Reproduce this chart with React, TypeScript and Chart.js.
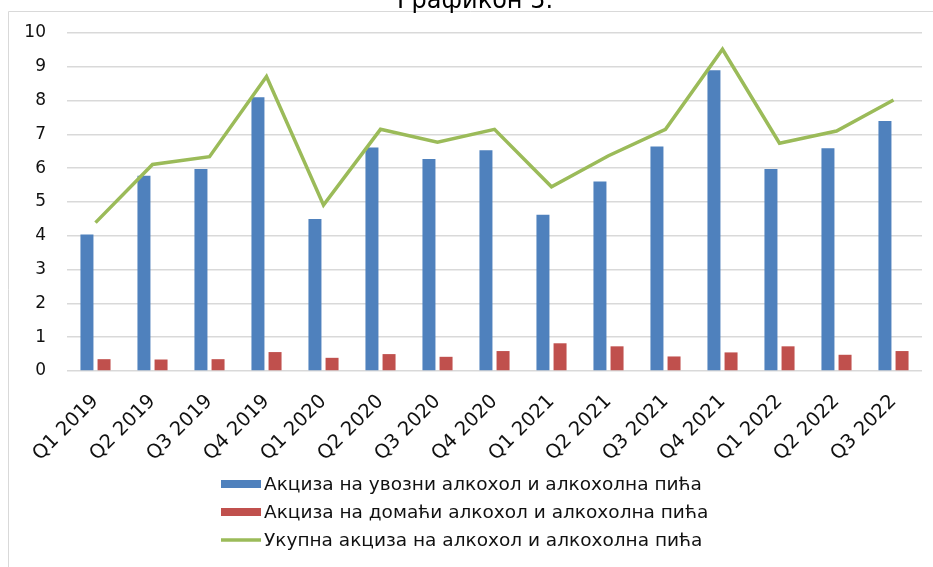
import React, { useEffect, useRef } from 'react';
import { Chart, registerables } from 'chart.js';

Chart.register(...registerables);

const categories = [
  'Q1 2019', 'Q2 2019', 'Q3 2019', 'Q4 2019',
  'Q1 2020', 'Q2 2020', 'Q3 2020', 'Q4 2020',
  'Q1 2021', 'Q2 2021', 'Q3 2021', 'Q4 2021',
  'Q1 2022', 'Q2 2022', 'Q3 2022',
];

const importedExcise = [4.04, 5.78, 5.98, 8.1, 4.5, 6.61, 6.27, 6.53, 4.62, 5.61, 6.64, 8.9, 5.98, 6.59, 7.4];
const domesticExcise = [0.35, 0.34, 0.35, 0.56, 0.39, 0.5, 0.42, 0.59, 0.82, 0.73, 0.43, 0.55, 0.73, 0.48, 0.59];
const totalExcise = [4.39, 6.11, 6.34, 8.71, 4.91, 7.15, 6.77, 7.15, 5.45, 6.37, 7.15, 9.52, 6.74, 7.1, 8.02];

const seriesLabels = [
  'Акциза на увозни алкохол и алкохолна пића',
  'Акциза на домаћи алкохол и алкохолна пића',
  'Укупна акциза на алкохол и алкохолна пића',
];

const titleText = 'Графикон 5.';
const yMin = 0;
const yMax = 10;
const yStep = 1;

const FONT = '"DejaVu Sans", Verdana, sans-serif';

const decorPlugin = {
  id: 'decorAndLegend',
  afterDraw(chart: any) {
    const ctx = chart.ctx;
    ctx.save();
    // outer frame
    ctx.strokeStyle = '#d9d9d9';
    ctx.lineWidth = 1;
    ctx.beginPath();
    ctx.moveTo(8.5, 567);
    ctx.lineTo(8.5, 11.5);
    ctx.lineTo(933, 11.5);
    ctx.stroke();
    // title (cut at top)
    ctx.fillStyle = '#000';
    ctx.font = `24px ${FONT}`;
    ctx.textAlign = 'center';
    ctx.textBaseline = 'alphabetic';
    ctx.fillText(titleText, 475, 8);
    // legend
    const order = [0, 1, 2];
    order.forEach((i, row) => {
      const ds = chart.data.datasets[i];
      const y = 484 + row * 28;
      if (ds.type === 'line') {
        ctx.strokeStyle = ds.borderColor;
        ctx.lineWidth = 3.5;
        ctx.beginPath();
        ctx.moveTo(221, y);
        ctx.lineTo(261, y);
        ctx.stroke();
      } else {
        ctx.fillStyle = ds.backgroundColor;
        ctx.fillRect(221, y - 4, 40, 8);
      }
      ctx.fillStyle = '#111';
      ctx.font = `18.5px ${FONT}`;
      ctx.textAlign = 'left';
      ctx.textBaseline = 'middle';
      ctx.fillText(ds.label, 264, y + 1);
    });
    ctx.restore();
  },
};

export default function App() {
  const canvasRef = useRef<HTMLCanvasElement>(null);

  useEffect(() => {
    if (!canvasRef.current) return;
    const chart = new Chart(canvasRef.current, {
      type: 'bar',
      data: {
        labels: categories,
        datasets: [
          {
            type: 'bar',
            label: seriesLabels[0],
            data: importedExcise,
            backgroundColor: '#4F81BD',
            categoryPercentage: 0.6,
            barPercentage: 0.76,
            order: 1,
          },
          {
            type: 'bar',
            label: seriesLabels[1],
            data: domesticExcise,
            backgroundColor: '#C0504D',
            categoryPercentage: 0.6,
            barPercentage: 0.76,
            order: 1,
          },
          {
            type: 'line',
            label: seriesLabels[2],
            data: totalExcise,
            borderColor: '#9BBB59',
            backgroundColor: '#9BBB59',
            borderWidth: 3.5,
            pointRadius: 0,
            tension: 0,
            order: 0,
          } as any,
        ],
      },
      options: {
        responsive: false,
        animation: false,
        layout: { padding: { top: 33, right: 11, left: 0, bottom: 0 } },
        plugins: {
          legend: { display: false },
          title: { display: false },
          tooltip: { enabled: false },
        },
        scales: {
          x: {
            grid: { display: false, drawTicks: false },
            border: { display: false },
            ticks: {
              minRotation: 45,
              maxRotation: 45,
              autoSkip: false,
              padding: 19,
              color: '#111',
              font: { family: FONT, size: 19.5 },
            },
            afterFit: (scale: any) => {
              scale.height = 196;
              scale.paddingLeft = 0;
              scale.paddingRight = 0;
            },
          },
          y: {
            min: yMin,
            max: yMax,
            grid: { color: '#d9d9d9', lineWidth: 1.5, drawTicks: false },
            border: { display: false },
            ticks: {
              stepSize: yStep,
              padding: 21,
              color: '#111',
              font: { family: FONT, size: 17 },
            },
            afterFit: (scale: any) => {
              scale.width = 67;
            },
          },
        },
      },
      plugins: [decorPlugin],
    });
    return () => chart.destroy();
  }, []);

  return (
    <div style={{ position: 'fixed', left: 0, top: 0, width: 933, height: 567, background: '#fff' }}>
      <canvas ref={canvasRef} width={933} height={567} />
    </div>
  );
}
